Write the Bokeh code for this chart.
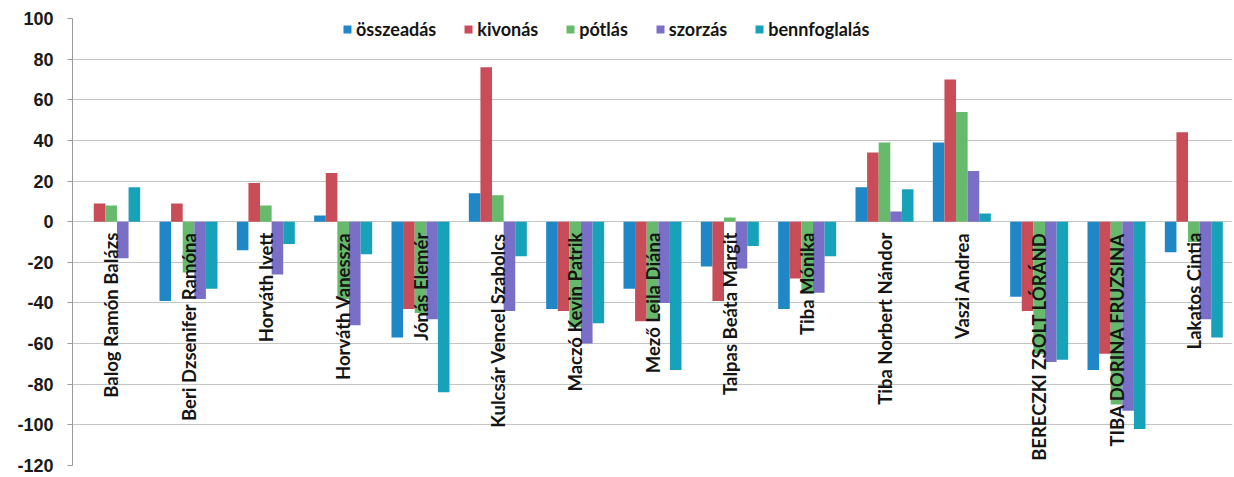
import math
from bokeh.plotting import figure
from bokeh.models import ColumnDataSource, FactorRange, Range1d, Legend, LegendItem, FixedTicker
from bokeh.transform import dodge
from bokeh.core.properties import value
from bokeh.embed import file_html
from bokeh.resources import INLINE

names = ["Balog Ramón Balázs", "Beri Dzsenifer Ramóna", "Horváth Ivett", "Horváth Vanessza",
         "Jónás Elemér", "Kulcsár Vencel Szabolcs", "Maczó Kevin Patrik", "Mező Leila Diána",
         "Talpas Beáta Margit", "Tiba Mónika", "Tiba Norbert Nándor", "Vaszi Andrea",
         "BERECZKI ZSOLT LÓRÁND", "TIBA DORINA FRUZSINA", "Lakatos Cintia"]

series_names = ["összeadás", "kivonás", "pótlás", "szorzás", "bennfoglalás"]

osszeadas    = [0, -39, -14, 3, -57, 14, -43, -33, -22, -43, 17, 39, -37, -73, -15]
kivonas      = [9, 9, 19, 24, -43, 76, -44, -49, -39, -28, 34, 70, -44, -65, 44]
potlas       = [8, -25, 8, -38, -45, 13, -52, -48, 2, -35, 39, 54, -65, -90, -10]
szorzas      = [-18, -38, -26, -51, -48, -44, -60, -40, -23, -35, 5, 25, -69, -93, -48]
bennfoglalas = [17, -33, -11, -16, -84, -17, -50, -73, -12, -17, 16, 4, -68, -102, -57]

y_ticks = [-120, -100, -80, -60, -40, -20, 0, 20, 40, 60, 80, 100]

colors = ["#1F87C6", "#C94D58", "#67BA6B", "#7A6FC6", "#17A2BA"]
offsets = [-0.3, -0.15, 0.0, 0.15, 0.3]
bar_w = 0.15

source = ColumnDataSource(dict(
    name=names, zero=[0] * len(names),
    s0=osszeadas, s1=kivonas, s2=potlas, s3=szorzas, s4=bennfoglalas,
))

p = figure(x_range=FactorRange(*names), y_range=Range1d(-120, 100),
           width=1234, height=477, output_backend="svg", toolbar_location=None,
           min_border_left=72, min_border_right=2, min_border_top=18, min_border_bottom=12)

p.outline_line_color = None
p.background_fill_color = "white"
p.xaxis.visible = False
p.xgrid.grid_line_color = None
p.ygrid.grid_line_color = "#C4C4C4"
p.ygrid.grid_line_width = 1

p.yaxis.ticker = FixedTicker(ticks=y_ticks)
p.yaxis.major_label_overrides = {t: str(t) for t in y_ticks}
p.yaxis.axis_line_color = "#9A9A9A"
p.yaxis.major_tick_line_color = "#9A9A9A"
p.yaxis.major_tick_in = 0
p.yaxis.major_tick_out = 5
p.yaxis.minor_tick_line_color = None
p.yaxis.major_label_standoff = 14
p.yaxis.major_label_text_font = "Liberation Sans"
p.yaxis.major_label_text_font_style = "bold"
p.yaxis.major_label_text_font_size = "18px"
p.yaxis.major_label_text_color = "#1a1a1a"

items = []
for i, lab in enumerate(series_names):
    r = p.vbar(x=dodge("name", offsets[i], range=p.x_range), top="s%d" % i, bottom=0,
               width=bar_w, source=source, fill_color=colors[i], line_color=None)
    items.append(LegendItem(label=lab, renderers=[r]))

p.text(x="name", y="zero", text="name", source=source, angle=math.pi / 2,
       text_align="right", text_baseline="middle", y_offset=11,
       text_font=value("Lato"), text_font_style="bold", text_font_size="18.5px",
       text_color="#151515")

legend = Legend(items=items, orientation="horizontal", location=(270, 447 - 22),
                background_fill_alpha=0, border_line_color=None, padding=0, margin=0,
                spacing=27, glyph_width=10, glyph_height=10, label_standoff=4,
                label_height=18, label_text_font="Lato", label_text_font_style="bold",
                label_text_font_size="18px", label_text_color="#151515")
p.add_layout(legend)

open("out.html", "w").write(file_html(p, INLINE))
